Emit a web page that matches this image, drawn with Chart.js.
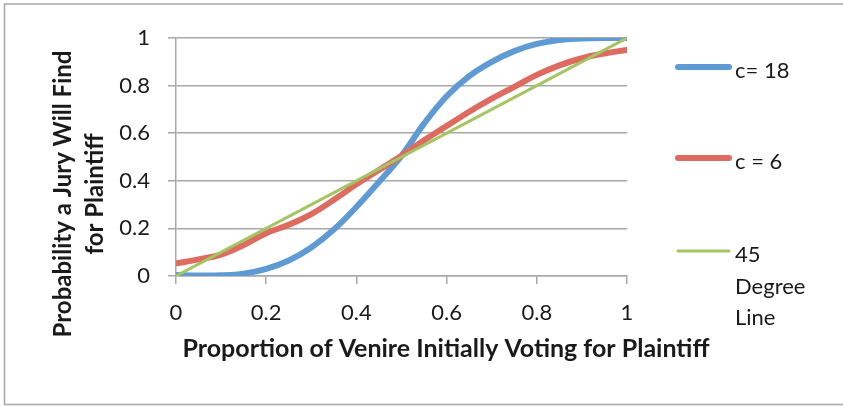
<!DOCTYPE html>
<html>
<head>
<meta charset="utf-8">
<script src="https://cdn.jsdelivr.net/npm/chart.js@4.4.1/dist/chart.umd.min.js"></script>
<style>
  html, body { margin: 0; padding: 0; background: #fff; }
  #wrap { position: relative; width: 843px; height: 406px; }
</style>
</head>
<body>
<div id="wrap"><canvas id="myChart" width="843" height="406"></canvas></div>
<script>
// proportion of venire voting for plaintiff
const xValues = [0, 0.05, 0.1, 0.15, 0.2, 0.25, 0.3, 0.35, 0.4, 0.45, 0.5,
                 0.55, 0.6, 0.65, 0.7, 0.75, 0.8, 0.85, 0.9, 0.95, 1];
const c18 = [0.004, 0.002, 0.003, 0.01, 0.03, 0.065, 0.12, 0.195, 0.29, 0.395, 0.505,
             0.64, 0.755, 0.84, 0.9, 0.945, 0.975, 0.992, 0.998, 1.0, 1.0];
const c6 = [0.053, 0.07, 0.09, 0.13, 0.18, 0.215, 0.26, 0.32, 0.385, 0.445, 0.505,
            0.57, 0.63, 0.69, 0.745, 0.795, 0.845, 0.885, 0.915, 0.935, 0.95];
const degX = [0, 1];
const degY = [0, 1];
const seriesNames = ['c= 18', 'c = 6', '45 Degree Line'];
const xTitle = 'Proportion of Venire Initially Voting for Plaintiff';
const yTitle = ['Probability a Jury Will Find', 'for Plaintiff'];

const FONT = 'Lato';
const gray = '#a8a8a8';

function pts(xs, ys) {
    return xs.map((x, i) => ({ x: x, y: ys[i] }));
}

// border + axis titles + legend drawn by hand (excel-like layout)
const decor = {
    id: 'decor',
    beforeDraw(chart) {
        const ctx = chart.ctx;
        ctx.save();
        ctx.fillStyle = '#fff';
        ctx.fillRect(0, 0, chart.width, chart.height);
        ctx.strokeStyle = gray;
        ctx.lineWidth = 1.5;
        ctx.beginPath();
        ctx.moveTo(843, 4);
        ctx.lineTo(4.5, 4);
        ctx.lineTo(4.5, 404.5);
        ctx.lineTo(843, 404.5);
        ctx.stroke();
        ctx.restore();
    },
    afterDraw(chart) {
        const ctx = chart.ctx;
        ctx.save();
        ctx.fillStyle = '#1a1a1a';
        ctx.font = 'bold 25px ' + FONT;
        ctx.textAlign = 'center';
        ctx.textBaseline = 'alphabetic';
        ctx.fillText(xTitle, 446, 357);

        ctx.font = 'bold 24px ' + FONT;
        const yx = [71, 103];
        yTitle.forEach((t, i) => {
            ctx.save();
            ctx.translate(yx[i], 194);
            ctx.rotate(-Math.PI / 2);
            ctx.fillText(t, 0, 0);
            ctx.restore();
        });

        // legend
        const ys = [67, 158, 251];
        ctx.font = '22px ' + FONT;
        ctx.textAlign = 'left';
        chart.data.datasets.forEach((ds, i) => {
            const y = ys[i];
            ctx.strokeStyle = ds.borderColor;
            ctx.lineWidth = ds.borderWidth;
            ctx.lineCap = 'round';
            ctx.beginPath();
            ctx.moveTo(678, y);
            ctx.lineTo(729, y);
            ctx.stroke();
            // wrap words
            const words = ds.label.split(' ');
            const lines = [];
            let cur = '';
            words.forEach(w => {
                const test = cur ? cur + ' ' + w : w;
                if (cur && ctx.measureText(test).width > 80) {
                    lines.push(cur);
                    cur = w;
                } else {
                    cur = test;
                }
            });
            lines.push(cur);
            ctx.fillStyle = '#1a1a1a';
            lines.forEach((l, j) => ctx.fillText(l, 735, y + 11 + j * 31.7));
        });
        ctx.restore();
    }
};

const ctx = document.getElementById('myChart').getContext('2d');
const myChart = new Chart(ctx, {
    type: 'line',
    data: {
        datasets: [
            {
                label: seriesNames[0],
                data: pts(xValues, c18),
                borderColor: '#5e9bd5',
                borderWidth: 6,
                order: 3
            },
            {
                label: seriesNames[1],
                data: pts(xValues, c6),
                borderColor: '#dd6b60',
                borderWidth: 6,
                order: 2
            },
            {
                label: seriesNames[2],
                data: pts(degX, degY),
                borderColor: '#a5c563',
                borderWidth: 3,
                order: 1,
                tension: 0
            }
        ]
    },
    options: {
        responsive: false,
        animation: false,
        events: [],
        layout: { padding: { left: 0, top: 38, right: 216, bottom: 0 } },
        elements: {
            point: { radius: 0 },
            line: { tension: 0.4, borderCapStyle: 'round', borderJoinStyle: 'round' }
        },
        plugins: {
            legend: { display: false },
            tooltip: { enabled: false }
        },
        scales: {
            x: {
                type: 'linear',
                position: 'bottom',
                min: 0,
                max: 1,
                afterFit(scale) { scale.height = 130; },
                border: { display: true, color: gray, width: 1.5 },
                grid: { drawOnChartArea: false, drawTicks: true, tickLength: 8, color: gray, lineWidth: 1.5 },
                ticks: {
                    stepSize: 0.2,
                    padding: 16,
                    color: '#1a1a1a',
                    font: { family: FONT, size: 22 },
                    maxRotation: 0,
                    callback: v => +v.toFixed(1)
                }
            },
            y: {
                type: 'linear',
                min: 0,
                max: 1,
                afterFit(scale) { scale.width = 176; },
                border: { display: true, color: gray, width: 1.5 },
                grid: { drawTicks: true, tickLength: 8, color: gray, lineWidth: 1.5 },
                ticks: {
                    stepSize: 0.2,
                    padding: 18,
                    color: '#1a1a1a',
                    font: { family: FONT, size: 22 },
                    callback: v => +v.toFixed(1)
                }
            }
        }
    },
    plugins: [decor]
});
</script>
</body>
</html>
